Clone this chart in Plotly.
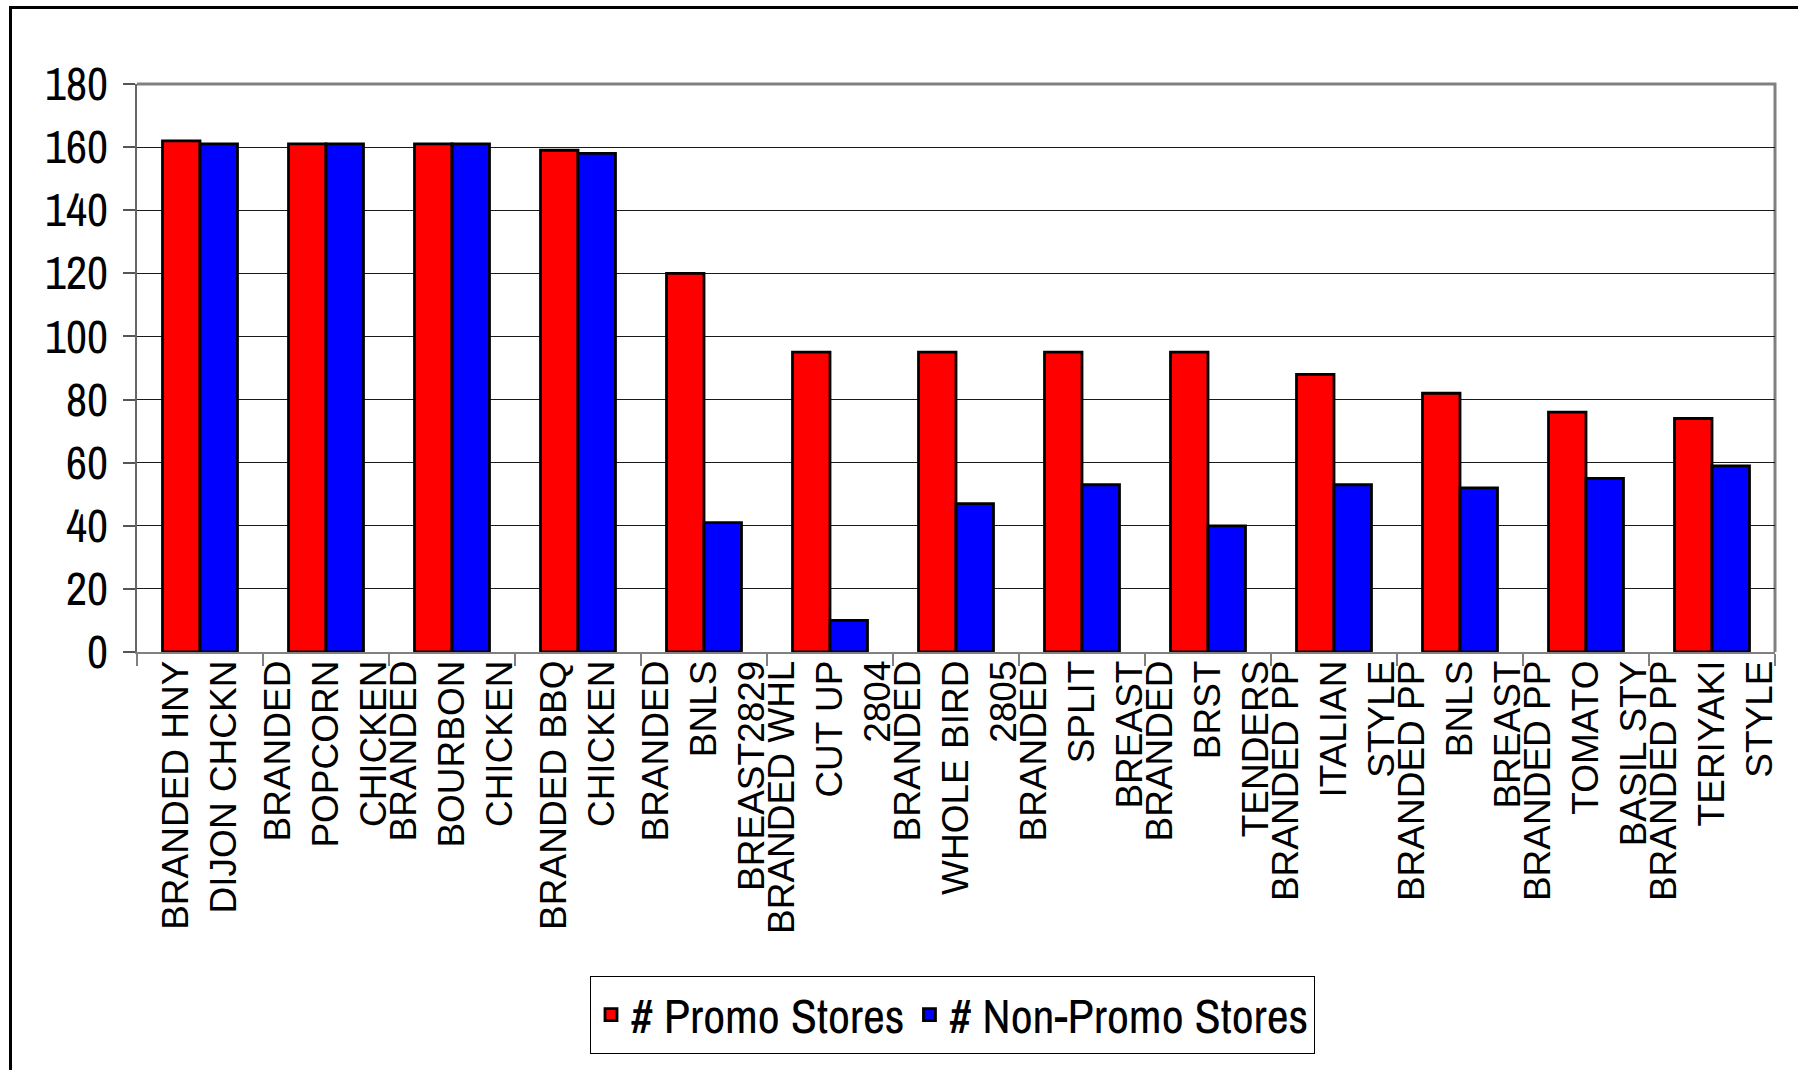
import plotly.graph_objects as go

# ---------------- data ----------------
categories = [
    "BRANDED HNY DIJON CHCKN",
    "BRANDED POPCORN CHICKEN",
    "BRANDED BOURBON CHICKEN",
    "BRANDED BBQ CHICKEN",
    "BRANDED BNLS BREAST2829",
    "BRANDED WHL CUT UP 2804",
    "BRANDED WHOLE BIRD 2805",
    "BRANDED SPLIT BREAST",
    "BRANDED BRST TENDERS",
    "BRANDED PP ITALIAN STYLE",
    "BRANDED PP BNLS BREAST",
    "BRANDED PP TOMATO BASIL STY",
    "BRANDED PP TERIYAKI STYLE",
]
tick_labels = [
    "BRANDED HNY<br>DIJON CHCKN",
    "BRANDED<br>POPCORN<br>CHICKEN",
    "BRANDED<br>BOURBON<br>CHICKEN",
    "BRANDED BBQ<br>CHICKEN",
    "BRANDED<br>BNLS<br>BREAST2829",
    "BRANDED WHL<br>CUT UP<br>2804",
    "BRANDED<br>WHOLE BIRD<br>2805",
    "BRANDED<br>SPLIT<br>BREAST",
    "BRANDED<br>BRST<br>TENDERS",
    "BRANDED PP<br>ITALIAN<br>STYLE",
    "BRANDED PP<br>BNLS<br>BREAST",
    "BRANDED PP<br>TOMATO<br>BASIL STY",
    "BRANDED PP<br>TERIYAKI<br>STYLE",
]
promo_stores = [162, 161, 161, 159, 120, 95, 95, 95, 95, 88, 82, 76, 74]
non_promo_stores = [161, 161, 161, 158, 41, 10, 47, 53, 40, 53, 52, 55, 59]
series_names = ["# Promo Stores", "# Non-Promo Stores"]
y_ticks = [0, 20, 40, 60, 80, 100, 120, 140, 160, 180]

# ---------------- layout constants ----------------
W, H = 1798, 1070
ML, MR, MT, MB = 137, 23, 84, 418
PW, PH = W - ML - MR, H - MT - MB

NARROW = "Archivo Narrow, Roboto Condensed, Liberation Sans, sans-serif"
REGULAR = "Liberation Sans, Arial, sans-serif"

fig = go.Figure()
fig.add_trace(go.Bar(
    x=categories, y=promo_stores, name=series_names[0],
    marker=dict(color="#FF0000", line=dict(color="#000000", width=2.8)),
))
fig.add_trace(go.Bar(
    x=categories, y=non_promo_stores, name=series_names[1],
    marker=dict(color="#0000FF", line=dict(color="#000000", width=2.8)),
))

# outer chart frame (extends past right/bottom edges)
fx0 = (10.5 - ML) / PW
fy1 = 1 + (MT - 7.5) / PH
fig.add_shape(type="rect", xref="paper", yref="paper",
              x0=fx0, x1=1.5, y0=-2, y1=fy1,
              line=dict(color="#000000", width=3), layer="above")
# plot-area border top/right (grey)
fig.add_shape(type="path", xref="paper", yref="paper",
              path="M 0,1 L 1,1 L 1,0",
              line=dict(color="#808080", width=3), layer="between")

fig.update_layout(
    width=W, height=H,
    margin=dict(l=ML, r=MR, t=MT, b=MB, autoexpand=False),
    paper_bgcolor="white", plot_bgcolor="white",
    barmode="group", bargap=0.405, bargroupgap=0.0,
    showlegend=True,
    legend=dict(
        orientation="h", x=(590 - ML) / PW, y=(MT + PH - 976) / PH,
        xanchor="left", yanchor="top",
        bordercolor="#000000", borderwidth=1, bgcolor="white",
        font=dict(family=NARROW, size=48, color="#000000"),
    ),
    xaxis=dict(
        type="category", tickmode="array", tickvals=categories, ticktext=tick_labels,
        tickangle=-90, tickson="boundaries", ticks="outside", ticklen=12,
        tickcolor="#808080", tickwidth=1.5,
        showline=True, linecolor="#808080", linewidth=1.5,
        showgrid=False, ticklabelstandoff=-8,
        tickfont=dict(family=REGULAR, size=37, color="#000000"),
    ),
    yaxis=dict(
        range=[0, 180], tickmode="array", tickvals=y_ticks,
        ticks="outside", ticklen=12, tickcolor="#555555", tickwidth=1.5,
        showline=True, linecolor="#666666", linewidth=1.5,
        showgrid=True, gridcolor="#1a1a1a", gridwidth=1,
        zeroline=False, ticklabelstandoff=6,
        tickfont=dict(family=NARROW, size=46, color="#000000"),
    ),
)

fig.write_html("out.html")
